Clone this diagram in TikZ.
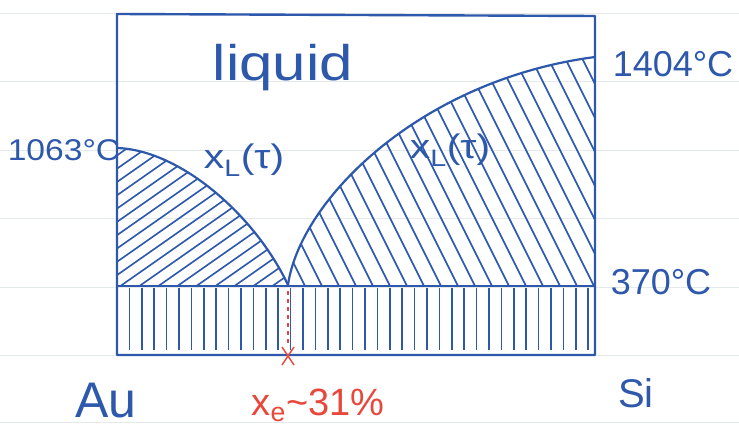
\documentclass[tikz,border=0pt]{standalone}
\usepackage{fontspec}
\setmainfont{Liberation Sans}
\definecolor{ink}{RGB}{45,88,172}
\definecolor{redink}{RGB}{232,72,60}
\definecolor{paperrule}{RGB}{228,234,234}
\tikzset{
  hatch/.style={ink, line width=1.6pt},
  outline/.style={ink, line width=2.4pt, line join=round},
  curve/.style={ink, line width=2.2pt},
  lbl/.style={ink, inner sep=0pt, anchor=center},
}
\newcommand{\fsz}[1]{\fontsize{#1}{#1}\selectfont}
\begin{document}
\begin{tikzpicture}[x=1pt,y=-1pt]
\useasboundingbox (0,0) rectangle (739,430);
\fill[white] (0,0) rectangle (739,430);
% ruled paper
\foreach \y in {13,81,150,218,287,355,422}
  \draw[paperrule, line width=0.8pt] (0,\y) -- (739,\y);
% left solid region hatch
\begin{scope}
  \clip (117,148) .. controls (180,150) and (255,215) .. (288,285) -- (117,285) -- cycle;
  \foreach \i in {0,...,20}
    \draw[hatch] ({-90+\i*19},287) -- ++(300,-210);
\end{scope}
% right solid region hatch
\begin{scope}
  \clip (288,285) .. controls (300,200) and (420,80) .. (595,57) -- (595,285) -- cycle;
  \foreach \i in {0,...,27}
    \draw[hatch] ({160+\i*17},30) -- ++(135,270);
\end{scope}
% bottom band
\foreach \i in {1,...,38}
  \draw[hatch] ({117+\i*12.4},288) -- ({117+\i*12.4},350);
% liquidus curves
\draw[curve] (117,148) .. controls (180,150) and (255,215) .. (288,285);
\draw[curve] (288,285) .. controls (300,200) and (420,80) .. (595,57);
% frame
\draw[outline] (117,14) -- (595,16) -- (595,355) -- (117,355) -- cycle;
\draw[outline] (117,286) -- (595,286);
% eutectic marker
\coordinate (eut) at (288,291);
\coordinate (xmark) at (288,356);
\draw[redink, line width=1.6pt, dash pattern=on 4pt off 4pt] (eut) -- (288,346);
\draw[redink, line width=1.4pt] (282,347) -- (294,365) (294,347) -- (282,365);
% labels
\node[lbl, xscale=1.2] (liq) at (283,68) {\fsz{50}liquid};
\node[lbl, xscale=1.12] (t1063) at (64,150) {\fsz{30}1063°C};
\node[lbl] (t1404) at (673,64) {\fsz{36}1404°C};
\node[lbl] (t370) at (661,282) {\fsz{36}370°C};
\node[lbl, xscale=1.2] (xl1) at (244,160) {\fsz{34}x\textsubscript{L}(τ)};
\node[lbl, xscale=1.2] (xl2) at (450,150) {\fsz{34}x\textsubscript{L}(τ)};
\node[lbl] (au) at (106,401) {\fsz{50}Au};
\node[lbl] (si) at (636,393) {\fsz{40}Si};
\node[lbl, redink] (xe) at (318,405) {\fsz{38}x\textsubscript{e}\textasciitilde31\%};
\end{tikzpicture}
\end{document}
